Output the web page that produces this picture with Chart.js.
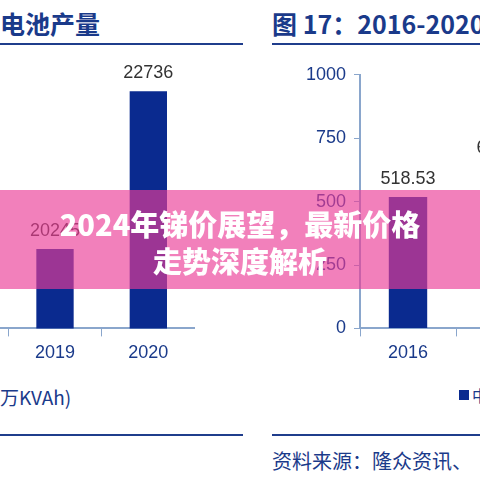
<!DOCTYPE html>
<html><head><meta charset="utf-8">
<script src="https://cdn.jsdelivr.net/npm/chart.js@4"></script>
<style>
body{margin:0;width:480px;height:480px;overflow:hidden;position:relative;background:#fff;font-family:"Liberation Sans",Arial,sans-serif}
.c{position:absolute}
.t{position:absolute;font-family:"Noto Sans CJK SC";font-weight:bold;color:#1a3a8a;font-size:25px;white-space:nowrap}
.ln{position:absolute;height:2px;background:#1f3d8c}
#banner{position:absolute;left:0;top:190px;width:480px;height:99px;background:rgba(235,60,150,0.65);z-index:5}
.bt{position:absolute;width:480px;text-align:center;color:#fff;font-family:"Noto Sans CJK SC";font-weight:900;font-size:29px;z-index:6}
</style></head><body>
<div class="t" style="left:0;top:5px">电池产量</div>
<div class="ln" style="left:0;top:43px;width:243px"></div>
<div class="t" style="left:272px;top:5px">图 17：2016-2020</div>
<div class="ln" style="left:272px;top:43px;width:220px"></div>
<div style="position:absolute;left:0;top:383px;font-size:19px;color:#1a3a8a;font-family:'Noto Sans CJK SC'">万KVAh)</div>
<div class="ln" style="left:0;top:434px;width:243px"></div>
<div class="ln" style="left:272px;top:434px;width:220px"></div>
<div style="position:absolute;left:272px;top:446px;font-size:20px;color:#1a3a8a;font-family:'Noto Sans CJK SC';white-space:nowrap">资料来源：隆众资讯、</div>
<div style="position:absolute;left:459px;top:390px;width:10px;height:10px;background:#0a2a8f"></div>
<div style="position:absolute;left:472px;top:383px;font-size:16px;color:#1a3a8a;font-family:'Noto Sans CJK SC'">中</div>
<div class="c" style="left:-85px;top:60px;width:280px;height:310px"><canvas id="a"></canvas></div>
<div class="c" style="left:290px;top:56px;width:358px;height:314px"><canvas id="b"></canvas></div>
<div id="banner"></div>
<div class="bt" style="top:202px">2024年锑价展望，最新价格</div>
<div class="bt" style="top:239px">走势深度解析</div>
<script>
const leftCats=["2018","2019","2020"];
const leftVals=[20000,20245,22736];
const leftLabels=["","20245","22736"];
const rightCats=["2016","2017","2018"];
const rightVals=[518.53,640,600];
const rightLabels=["518.53","640.00","600.00"];
const rightTicks=[0,250,500,750,1000];

const valPlugin={id:'v',afterDatasetsDraw(ch){const ctx=ch.ctx;const m=ch.getDatasetMeta(0);const labs=ch.options.plugins.v.labels;
ctx.save();ctx.font='18px "Liberation Sans", Arial';ctx.fillStyle='#333';ctx.textAlign='center';ctx.textBaseline='bottom';
m.data.forEach((b,i)=>ctx.fillText(labs[i],b.x,b.y-9));ctx.restore();}};
Chart.defaults.animation=false;
Chart.defaults.font.family='"Liberation Sans", Arial';
const axC='#8aa6cc';
new Chart(document.getElementById('a'),{type:'bar',data:{labels:leftCats,datasets:[{data:leftVals,backgroundColor:'#0a2a8f',barPercentage:0.4,categoryPercentage:1}]},
options:{responsive:true,maintainAspectRatio:false,layout:{padding:0},plugins:{legend:{display:false},tooltip:{enabled:false},v:{labels:leftLabels}},
scales:{y:{display:false,min:18991,max:23228},x:{grid:{display:true,drawOnChartArea:false,color:axC,tickLength:8,offset:true},border:{color:axC,width:2},ticks:{color:'#1a3a8a',font:{size:18},padding:6}}}},plugins:[valPlugin]});
new Chart(document.getElementById('b'),{type:'bar',data:{labels:rightCats,datasets:[{data:rightVals,backgroundColor:'#0a2a8f',barPercentage:0.4,categoryPercentage:1}]},
options:{responsive:true,maintainAspectRatio:false,layout:{padding:{top:5}},plugins:{legend:{display:false},tooltip:{enabled:false},v:{labels:rightLabels}},
scales:{y:{min:0,max:1000,afterBuildTicks(s){s.ticks=rightTicks.map(v=>({value:v}))},afterFit(s){s.width=70},grid:{drawOnChartArea:false,color:axC,tickLength:6},border:{color:axC,width:2},ticks:{color:'#1a3a8a',font:{size:18},padding:8,callback:v=>String(v)}},
x:{grid:{display:true,drawOnChartArea:false,color:axC,tickLength:8,offset:true},border:{color:axC,width:2},ticks:{color:'#1a3a8a',font:{size:18},padding:6}}}},plugins:[valPlugin]});
</script></body></html>
